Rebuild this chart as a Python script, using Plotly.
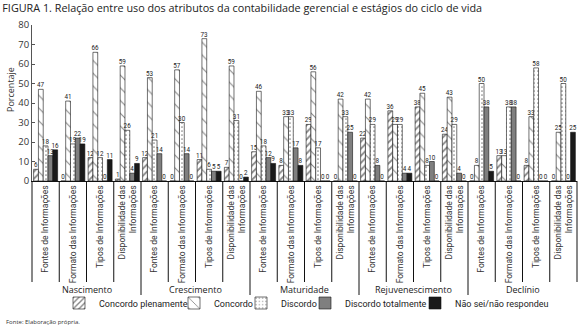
import plotly.graph_objects as go

# ---------------- data ----------------
stages = ["Nascimento", "Crescimento", "Maturidade", "Rejuvenescimento", "Declínio"]
categories = ["Fontes de Informações", "Formato das Informações",
              "Tipos de Informações", "Disponibilidade das<br>Informações"]
series_names = ["Concordo plenamente", "Concordo", "Discordo",
                "Discordo totalmente", "Não sei/não respondeu"]

concordo_plenamente = [6, 0, 12, 1, 12, 0, 11, 7, 15, 8, 29, 0, 22, 36, 38, 24, 0, 13, 8, 0]
concordo = [47, 41, 66, 59, 53, 57, 73, 59, 46, 33, 56, 42, 42, 29, 45, 43, 8, 13, 33, 25]
discordo = [18, 19, 12, 26, 21, 30, 6, 31, 18, 33, 17, 33, 29, 29, 8, 29, 50, 38, 58, 50]
discordo_totalmente = [13, 22, 0, 4, 14, 14, 5, 0, 12, 17, 0, 25, 8, 4, 10, 4, 38, 38, 0, 0]
nao_sei = [16, 19, 11, 9, 0, 0, 5, 2, 9, 8, 0, 0, 0, 4, 0, 0, 5, 0, 0, 25]

y_ticks = [0, 10, 20, 30, 40, 50, 60, 70, 80]

series_values = [concordo_plenamente, concordo, discordo, discordo_totalmente, nao_sei]

# ---------------- figure ----------------
W, H = 578, 329
ML, MR, MT, MB = 32, 1, 25, 148
PW = W - ML - MR
PH = H - MT - MB

x_labels = categories * len(stages)
xpos = list(range(len(x_labels)))
n = len(x_labels)

styles = [
    dict(color="white", pattern=dict(shape="/", fgcolor="#111", bgcolor="white", size=5, solidity=0.35)),
    dict(color="white", pattern=dict(shape="\\", fgcolor="#111", bgcolor="white", size=9, solidity=0.12)),
    dict(color="white", pattern=dict(shape=".", fgcolor="#111", bgcolor="white", size=4, solidity=0.15)),
    dict(color="#7f7f7f"),
    dict(color="#1a1a1a"),
]

def px_to_paper_x(px):
    return (px - ML) / PW

def px_to_paper_y(py):
    return (MT + PH - py) / PH

fig = go.Figure()
legend_ids = ["legend", "legend2", "legend3", "legend4", "legend5"]
for i, (name, vals) in enumerate(zip(series_names, series_values)):
    st = styles[i]
    marker = dict(color=st["color"], line=dict(color="#111", width=0.6))
    if "pattern" in st:
        marker["pattern"] = st["pattern"]
    fig.add_trace(go.Bar(
        x=xpos, y=vals, name=name, marker=marker,
        text=vals, texttemplate="%{text}", textposition="outside",
        textfont=dict(family="Roboto", size=6.3, color="#222"),
        outsidetextfont=dict(family="Roboto", size=6.3, color="#222"),
        cliponaxis=False, constraintext="none",
        legend=legend_ids[i],
    ))

# separators under the axis
shapes = []
for i in range(n + 1):
    is_group = (i % len(categories) == 0) and 0 < i < n
    depth = 295 if is_group else 282
    shapes.append(dict(type="line", xref="paper", yref="paper",
                       x0=i / n, x1=i / n, y0=0, y1=px_to_paper_y(depth),
                       line=dict(color="#111", width=1)))

annotations = []
for g, st in enumerate(stages):
    annotations.append(dict(
        text=st, xref="paper", yref="paper",
        x=(g * len(categories) + len(categories) / 2) / n, y=px_to_paper_y(289),
        showarrow=False, xanchor="center", yanchor="middle",
        font=dict(family="Open Sans", size=9, color="#222")))

annotations.append(dict(
    text="Porcentaje", xref="paper", yref="paper",
    x=px_to_paper_x(10), y=px_to_paper_y(90), textangle=-90,
    showarrow=False, xanchor="center", yanchor="middle",
    font=dict(family="Open Sans", size=9, color="#333")))

annotations.append(dict(
    text="Fonte: Elaboração própria.", xref="paper", yref="paper",
    x=px_to_paper_x(4), y=px_to_paper_y(322),
    showarrow=False, xanchor="left", yanchor="middle",
    font=dict(family="Open Sans", size=6, color="#333")))

layout_legends = {}
text_starts = [99, 214, 281, 345, 455]
for lid, ts in zip(legend_ids, text_starts):
    layout_legends[lid] = dict(
        orientation="h", x=px_to_paper_x(ts - 40), xanchor="left",
        y=px_to_paper_y(303), yanchor="middle",
        bgcolor="rgba(0,0,0,0)", borderwidth=0,
        font=dict(family="Roboto", size=9, color="#222"),
        itemwidth=30,
    )

fig.update_layout(
    width=W, height=H,
    margin=dict(l=ML, r=MR, t=MT, b=MB, pad=0, autoexpand=False),
    paper_bgcolor="white", plot_bgcolor="white",
    barmode="group", bargap=0.12, bargroupgap=0,
    title=dict(text="FIGURA 1. Relação entre uso dos atributos da contabilidade gerencial e estágios do ciclo de vida",
               x=0.004, xanchor="left", xref="container",
               y=1 - 8 / H, yanchor="middle", yref="container",
               font=dict(family="Open Sans", size=10.8, color="#222")),
    xaxis=dict(range=[-0.5, n - 0.5], tickmode="array", tickvals=xpos, ticktext=x_labels,
               tickangle=-90, tickfont=dict(family="Roboto", size=8.5, color="#333"),
               showline=True, linecolor="#111", linewidth=1, ticks="",
               showgrid=False, zeroline=False, fixedrange=True, automargin=False),
    yaxis=dict(range=[0, 80], tickmode="array", tickvals=y_ticks,
               tickfont=dict(family="Open Sans", size=9.5, color="#333"),
               showline=True, linecolor="#555", linewidth=1,
               ticks="inside", ticklen=3, tickcolor="#555",
               showgrid=False, zeroline=False, fixedrange=True, automargin=False),
    shapes=shapes, annotations=annotations,
    showlegend=True,
    **layout_legends,
)

fig.write_html(
    "out.html",
    config={"displayModeBar": False},
    post_script="document.body.style.margin='0px';document.body.style.overflow='hidden';",
)
